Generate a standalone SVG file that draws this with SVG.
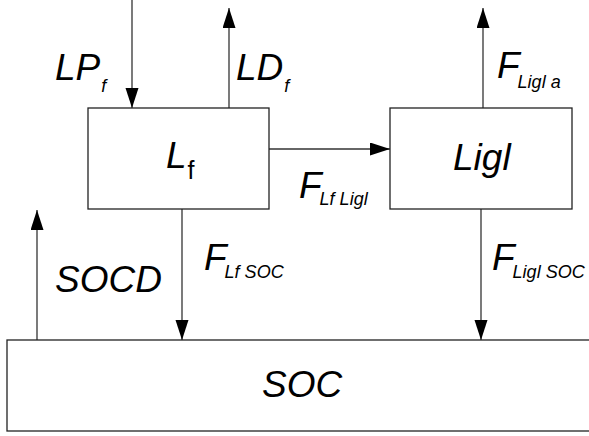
<svg xmlns="http://www.w3.org/2000/svg" width="589" height="436" viewBox="0 0 589 436">
<style>
.box{fill:#fff;stroke:#222;stroke-width:1.3}
.ln{stroke:#333;stroke-width:1.3;fill:none}
.t{font-family:"Liberation Sans",Arial,sans-serif;font-style:italic;font-size:37px;fill:#000}
.s{font-size:18px}
.u{font-style:normal;font-size:25px}
</style>
<defs>
<marker id="ah" markerUnits="userSpaceOnUse" markerWidth="20" markerHeight="14" refX="20" refY="6.5" orient="auto">
<path d="M0,0 L20,6.5 L0,13 Z" fill="#000"/>
</marker>
</defs>
<rect width="589" height="436" fill="#fff"/>
<g id="connectors">
<line class="ln" x1="132" y1="0" x2="132" y2="108" marker-end="url(#ah)"/>
<line class="ln" x1="229" y1="108" x2="229" y2="8" marker-end="url(#ah)"/>
<line class="ln" x1="269" y1="149" x2="390" y2="149" marker-end="url(#ah)"/>
<line class="ln" x1="483" y1="108" x2="483" y2="8" marker-end="url(#ah)"/>
<line class="ln" x1="182" y1="209" x2="182" y2="340" marker-end="url(#ah)"/>
<line class="ln" x1="481" y1="209" x2="481" y2="340" marker-end="url(#ah)"/>
<line class="ln" x1="37" y1="340" x2="37" y2="210" marker-end="url(#ah)"/>
<text class="t" x="55" y="80">LP<tspan class="s" dy="12" dx="1">f</tspan></text>
<text class="t" x="236" y="80">LD<tspan class="s" dy="12" dx="1">f</tspan></text>
<text class="t" x="299" y="198">F<tspan class="s" dy="7" dx="-2">Lf Ligl</tspan></text>
<text class="t" x="497" y="78">F<tspan class="s" dy="10" dx="-2">Ligl a</tspan></text>
<text class="t" x="55" y="292">SOCD</text>
<text class="t" x="204" y="270">F<tspan class="s" dy="8" dx="-2">Lf SOC</tspan></text>
<text class="t" x="492" y="270">F<tspan class="s" dy="8" dx="-2">Ligl SOC</tspan></text>
</g>
<g id="Lf">
<rect class="box" x="88" y="108" width="181" height="101"/>
<text class="t" x="166" y="168">L<tspan class="u" dy="11" dx="1">f</tspan></text>
</g>
<g id="Ligl">
<rect class="box" x="390" y="108" width="182" height="101"/>
<text class="t" x="453" y="170">Ligl</text>
</g>
<g id="SOC">
<rect class="box" x="7" y="340" width="590" height="91"/>
<text class="t" x="262" y="397">SOC</text>
</g>
</svg>
